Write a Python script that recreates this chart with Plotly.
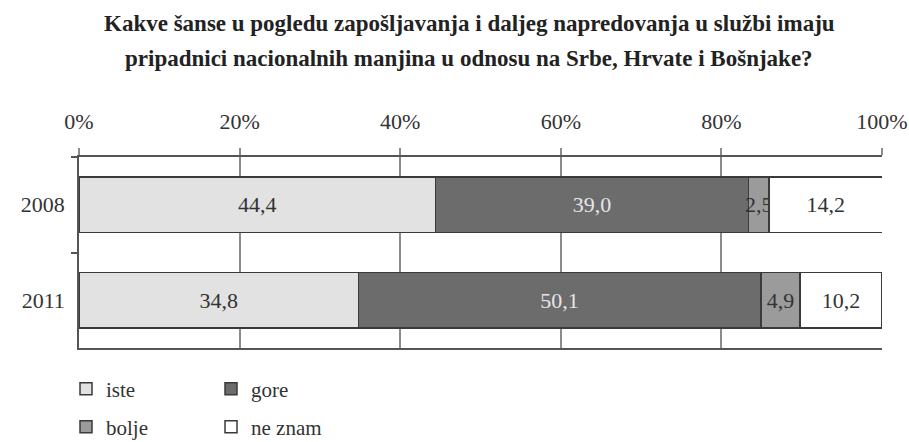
import plotly.graph_objects as go

years = ["2008", "2011"]
series_names = ["iste", "gore", "bolje", "ne znam"]
iste = [44.4, 34.8]
gore = [39.0, 50.1]
bolje = [2.5, 4.9]
ne_znam = [14.2, 10.2]
x_ticks = [0, 20, 40, 60, 80, 100]
x_tick_labels = ["0%", "20%", "40%", "60%", "80%", "100%"]
title_lines = [
    "Kakve šanse u pogledu zapošljavanja i daljeg napredovanja u službi imaju",
    "pripadnici nacionalnih manjina u odnosu na Srbe, Hrvate i Bošnjake?",
]

values = [iste, gore, bolje, ne_znam]
fills = ["#e2e2e2", "#6c6c6c", "#9b9b9b", "#ffffff"]
text_colors = ["#333333", "#e6e6e6", "#333333", "#333333"]
legends = ["legend", "legend", "legend2", "legend2"]

FONT = "Liberation Serif"
FS = 22

fig = go.Figure()
for name, vals, fc, tc, lg in zip(series_names, values, fills, text_colors, legends):
    fig.add_trace(go.Bar(
        y=years, x=vals, name=name, orientation="h",
        marker=dict(color=fc, line=dict(color="#3a3a3a", width=1.5)),
        text=[f"{v:.1f}".replace(".", ",") for v in vals],
        textposition="inside", insidetextanchor="middle", textangle=0,
        textfont=dict(family=FONT, size=FS, color=tc),
        legend=lg,
    ))

W, H = 909, 442
ml, mr, mt, mb = 79, 27, 157, 94
pw = W - ml - mr
ph = H - mt - mb

def xpaper(pix):
    return (pix - ml) / pw

def ypaper(pix):
    return (H - mb - pix) / ph

def ycont(pix):
    return (H - pix) / H

def xcont(pix):
    return pix / W

annotations = []
for line, ypix in zip(title_lines, [23, 58]):
    annotations.append(dict(
        text=f"<b>{line}</b>", x=xpaper(469), y=ypaper(ypix),
        xref="paper", yref="paper", xanchor="center", yanchor="middle",
        showarrow=False, font=dict(family=FONT, size=23, color="#222222"),
    ))

legend_common = dict(
    orientation="h", xref="container", yref="container",
    xanchor="left", yanchor="middle",
    font=dict(family=FONT, size=21, color="#333333"),
    entrywidth=100, entrywidthmode="pixels", itemwidth=30,
    traceorder="normal", bgcolor="rgba(0,0,0,0)",
)

fig.update_layout(
    width=W, height=H,
    margin=dict(l=ml, r=mr, t=mt, b=mb, autoexpand=False),
    paper_bgcolor="white", plot_bgcolor="white",
    barmode="stack", bargap=0.42,
    uniformtext=dict(minsize=FS, mode="show"),
    font=dict(family=FONT, size=FS, color="#333333"),
    annotations=annotations,
    legend=dict(x=xcont(66), y=ycont(389), **legend_common),
    legend2=dict(x=xcont(66), y=ycont(427), **legend_common),
    xaxis=dict(
        side="top", range=[0, 100], tickvals=x_ticks, ticktext=x_tick_labels,
        showgrid=True, gridcolor="#8c8c8c", gridwidth=1.5,
        showline=True, linecolor="#555555", linewidth=1.5, mirror=True,
        ticks="outside", ticklen=7, tickcolor="#8c8c8c", tickwidth=1.5,
        ticklabelstandoff=10,
        tickfont=dict(family=FONT, size=FS, color="#333333"),
        zeroline=False, fixedrange=True, automargin=False,
    ),
    yaxis=dict(
        categoryorder="array", categoryarray=years, range=[1.5, -0.5],
        showline=True, linecolor="#555555", linewidth=1.5,
        ticks="outside", tickson="boundaries", ticklen=6, tickcolor="#555555", tickwidth=1.5,
        ticklabelstandoff=8,
        tickfont=dict(family=FONT, size=FS, color="#333333"),
        showgrid=False, zeroline=False, fixedrange=True, automargin=False,
    ),
)

fig.write_html(
    "out.html",
    config={"displayModeBar": False},
    post_script="document.body.style.margin='0';document.body.style.padding='0';",
)
